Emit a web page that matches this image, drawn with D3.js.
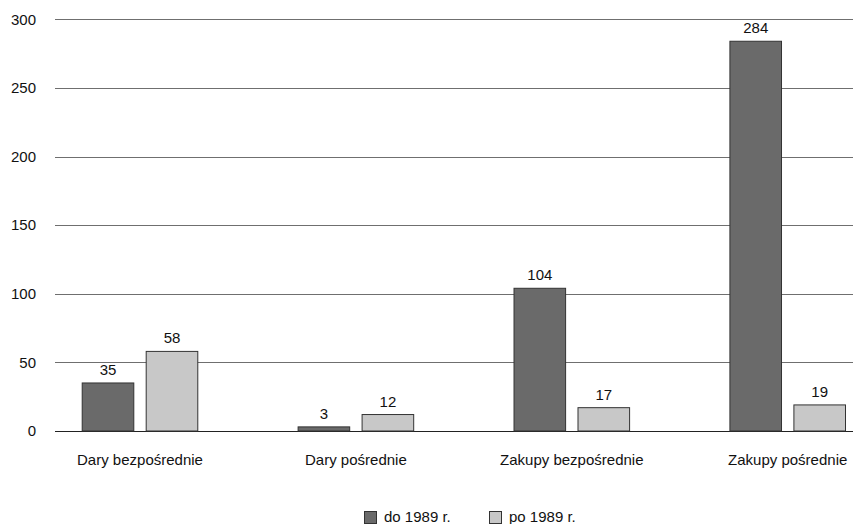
<!DOCTYPE html>
<html><head><meta charset="utf-8">
<script src="https://cdn.jsdelivr.net/npm/d3@7"></script>
<style>body{margin:0;background:#fff}svg{display:block;font-family:"Liberation Sans",Arial,sans-serif}</style>
</head><body><svg id="c" width="855" height="524"></svg>
<script>
const categories = ["Dary bezpośrednie","Dary pośrednie","Zakupy bezpośrednie","Zakupy pośrednie"];
const seriesNames = ["do 1989 r.","po 1989 r."];
const before1989 = [35, 3, 104, 284];
const after1989 = [58, 12, 17, 19];
const yTicks = [0, 50, 100, 150, 200, 250, 300];
const colors = ["#6a6a6a", "#c8c8c8"];

const svg = d3.select("#c");
const plot = {left: 55, right: 853, top: 19.3, bottom: 431};
const y = d3.scaleLinear().domain([0, 300]).range([plot.bottom, plot.top]);
const x0 = d3.scaleBand().domain(categories).range([81.7, 846]).paddingInner(0.46).paddingOuter(0);
const x1 = d3.scaleBand().domain(seriesNames).range([0, x0.bandwidth()]).paddingInner(0.178).paddingOuter(0);

// gridlines
svg.append("g").selectAll("line").data(yTicks).join("line")
  .attr("x1", plot.left).attr("x2", plot.right)
  .attr("y1", d => Math.round(y(d)) + 0.5).attr("y2", d => Math.round(y(d)) + 0.5)
  .attr("stroke", d => d === 0 ? "#222" : "#6f6f6f").attr("stroke-width", 1);

// y tick labels
svg.append("g").selectAll("text").data(yTicks).join("text")
  .attr("x", 36).attr("y", d => y(d)).attr("dy", "0.35em")
  .attr("text-anchor", "end").attr("font-size", 15).attr("fill", "#111").text(d => d);

const data = categories.map((c, i) => ({cat: c, vals: [before1989[i], after1989[i]]}));

const groups = svg.append("g").selectAll("g").data(data).join("g")
  .attr("transform", d => `translate(${x0(d.cat)},0)`);

groups.selectAll("rect").data(d => d.vals.map((v, j) => ({s: seriesNames[j], v, j}))).join("rect")
  .attr("x", d => x1(d.s) + 0.5).attr("width", x1.bandwidth() - 1)
  .attr("y", d => y(d.v)).attr("height", d => y(0) - y(d.v))
  .attr("fill", d => colors[d.j]).attr("stroke", "#333").attr("stroke-width", 1);

groups.selectAll("text.val").data(d => d.vals.map((v, j) => ({s: seriesNames[j], v}))).join("text")
  .attr("class", "val")
  .attr("x", d => x1(d.s) + x1.bandwidth() / 2).attr("y", d => y(d.v) - 8)
  .attr("text-anchor", "middle").attr("font-size", 15).attr("fill", "#111").text(d => d.v);

// category labels
svg.append("g").selectAll("text").data(categories).join("text")
  .attr("x", d => x0(d) + x0.bandwidth() / 2).attr("y", 465)
  .attr("text-anchor", "middle").attr("font-size", 15).attr("fill", "#111").text(d => d);

// legend
const legendX = [364, 489];
const lg = svg.append("g").selectAll("g").data(seriesNames).join("g")
  .attr("transform", (d, i) => `translate(${legendX[i]},511)`);
lg.append("rect").attr("x", 0.5).attr("y", 0.5).attr("width", 12).attr("height", 12)
  .attr("fill", (d, i) => colors[i]).attr("stroke", "#333");
lg.append("text").attr("x", 20).attr("y", 11).attr("font-size", 15).attr("fill", "#111").text(d => d);
</script></body></html>
